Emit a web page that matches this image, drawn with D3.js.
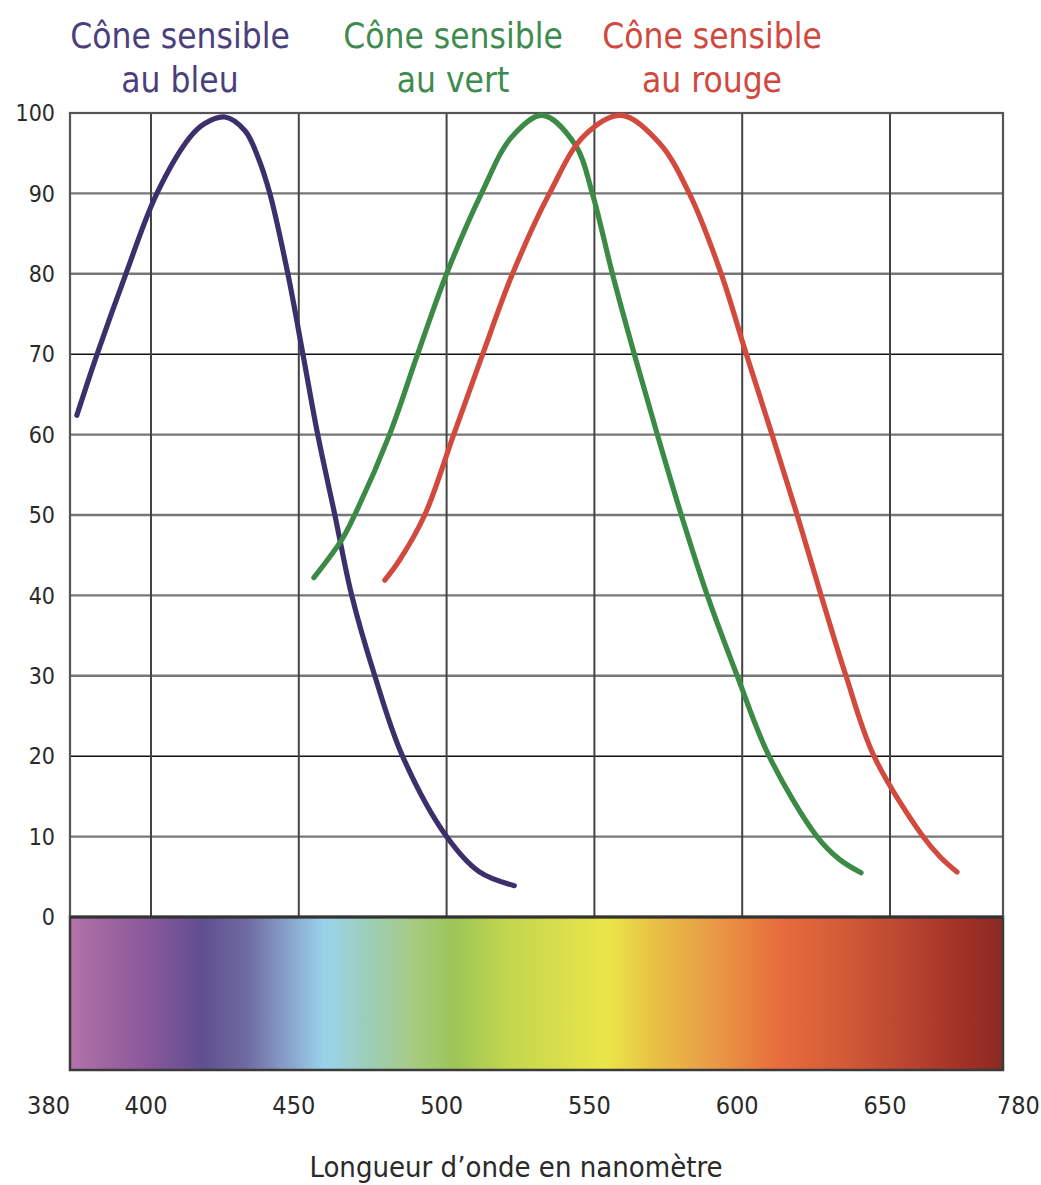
<!DOCTYPE html>
<html>
<head>
<meta charset="utf-8">
<script src="https://cdn.jsdelivr.net/npm/d3@7"></script>
<style>
  html, body { margin: 0; padding: 0; background: #fff; }
  svg text { font-family: "DejaVu Sans Condensed", "DejaVu Sans", sans-serif; font-stretch: condensed; }
</style>
</head>
<body>
<div id="graph"></div>
<script>
// wavelengths (nm) and relative sensitivity (%)
var blueNm  = [381.7, 386.7, 393.8, 402, 413.2, 418.2, 425, 431.8, 436.1, 440.2, 446.3, 451.4, 456.4, 462.2, 467.9, 475.7, 485.1, 500, 511.1, 522.9];
var blueVal = [62.4, 70, 80, 90, 97.0, 98.7, 99.5, 97.8, 94.6, 90, 80, 70, 60, 50, 40, 30, 20, 10, 5.6, 3.9];

var greenNm  = [455.1, 464.5, 468.9, 480.7, 490.2, 500, 511.8, 522, 532.4, 543.6, 549.3, 556.1, 563.5, 571.3, 579.4, 588.2, 598.3, 609.1, 625.3, 632.8, 640.2];
var greenVal = [42.2, 46.9, 50, 60, 70, 80, 90, 97, 99.7, 96, 90, 80, 70, 60, 50, 40, 30, 20, 10, 7.2, 5.5];

var redNm  = [479.1, 484.1, 492.6, 502.4, 512.2, 522.3, 534.8, 546.6, 559.1, 571.9, 582.1, 592.9, 601.4, 610.1, 618.6, 626.7, 635.1, 644.6, 688, 707.5, 727.1];
var redVal = [41.9, 44.4, 50, 60, 70, 80, 90, 97.2, 99.7, 96.3, 90, 80, 70, 60, 50, 40, 30, 20, 10, 7.5, 5.6];

var seriesNames  = ["Cône sensible|au bleu", "Cône sensible|au vert", "Cône sensible|au rouge"];
var seriesColors = ["#3d2f6b", "#3b8a45", "#d24a3e"];
var titleColors  = ["#4b3f7c", "#3f8b4f", "#d0483e"];

var yTicks = [0, 10, 20, 30, 40, 50, 60, 70, 80, 90, 100];
var xTicks = [380, 400, 450, 500, 550, 600, 650, 780];
var darkRows = [20, 70];

// colours of the visible spectrum strip
var spectrumNm  = [380, 389.9, 400, 417.6, 433.4, 447, 458.8, 474, 487.5, 502.7, 521.3, 554.4, 568.6, 585.5, 612.5, 636.1, 690, 730.5, 780];
var spectrumCol = ["#b572aa", "#9c64a0", "#88589a", "#604f91", "#6f6ea3", "#8aa4cc", "#99d3ea", "#9ccdb6", "#a8cb88", "#9bc556", "#c4d64e", "#eae648", "#e9c445", "#e9a447", "#e86c3d", "#d05936", "#b23f2e", "#a23227", "#8a2a22"];

var width = 1041, height = 1185;
var plotLeft = 70, plotRight = 1003, plotTop = 113, plotBottom = 917, stripBottom = 1070;

var svg = d3.select("#graph").append("svg")
  .attr("width", width)
  .attr("height", height);

// piecewise axis: the ends are squeezed (380 and 780 sit on the frame)
var x = d3.scaleLinear().domain([380, 400, 650, 780]).range([plotLeft, 151, 890, plotRight]);
var y = d3.scaleLinear().domain([0, 100]).range([plotBottom, plotTop]);

// spectrum gradient
var defs = svg.append("defs");
var grad = defs.append("linearGradient")
  .attr("id", "spectrum")
  .attr("x1", "0%").attr("x2", "100%").attr("y1", "0%").attr("y2", "0%");
grad.selectAll("stop")
  .data(spectrumNm)
  .enter().append("stop")
  .attr("offset", function (d) { return ((x(d) - plotLeft) / (plotRight - plotLeft) * 100) + "%"; })
  .attr("stop-color", function (d, i) { return spectrumCol[i]; });

svg.append("rect")
  .attr("x", x(380)).attr("y", y(0))
  .attr("width", x(780) - x(380))
  .attr("height", stripBottom - y(0))
  .attr("fill", "url(#spectrum)")
  .attr("stroke", "#3a3a3a")
  .attr("stroke-width", 2.5);

// grid
var grid = svg.append("g");
grid.selectAll("line.h")
  .data(yTicks.filter(function (d) { return d > 0 && d < 100; }))
  .enter().append("line")
  .attr("class", "h")
  .attr("x1", x(380)).attr("x2", x(780))
  .attr("y1", function (d) { return y(d); })
  .attr("y2", function (d) { return y(d); })
  .attr("stroke", function (d) { return darkRows.indexOf(d) >= 0 ? "#111" : "#777"; })
  .attr("stroke-width", function (d) { return darkRows.indexOf(d) >= 0 ? 1.6 : 2.4; });

grid.selectAll("line.v")
  .data(xTicks.filter(function (d) { return d > 380 && d < 780; }))
  .enter().append("line")
  .attr("class", "v")
  .attr("x1", function (d) { return x(d); })
  .attr("x2", function (d) { return x(d); })
  .attr("y1", y(100)).attr("y2", y(0))
  .attr("stroke", "#444")
  .attr("stroke-width", 2);

svg.append("rect")
  .attr("x", x(380)).attr("y", y(100))
  .attr("width", x(780) - x(380))
  .attr("height", y(0) - y(100))
  .attr("fill", "none")
  .attr("stroke", "#555")
  .attr("stroke-width", 2.2);

svg.append("line")
  .attr("x1", x(380)).attr("x2", x(780))
  .attr("y1", y(0)).attr("y2", y(0))
  .attr("stroke", "#333").attr("stroke-width", 3);

// axes labels
svg.selectAll("text.ytick")
  .data(yTicks)
  .enter().append("text")
  .attr("class", "ytick")
  .attr("x", 55)
  .attr("y", function (d) { return y(d); })
  .attr("dy", "0.36em")
  .attr("text-anchor", "end")
  .attr("font-size", 23)
  .attr("fill", "#2a2a2a")
  .text(function (d) { return d; });

svg.selectAll("text.xtick")
  .data(xTicks)
  .enter().append("text")
  .attr("class", "xtick")
  .attr("x", function (d) {
    if (d === 380) return x(d);
    if (d === 780) return x(d) - 6;
    return x(d) - 5;
  })
  .attr("y", 1114)
  .attr("text-anchor", function (d) {
    return d === 380 ? "end" : d === 780 ? "start" : "middle";
  })
  .attr("font-size", 25)
  .attr("fill", "#2a2a2a")
  .text(function (d) { return d; });

svg.append("text")
  .attr("x", 516)
  .attr("y", 1177)
  .attr("text-anchor", "middle")
  .attr("font-size", 29)
  .attr("fill", "#2a2a2a")
  .text("Longueur d\u2019onde en nanomètre");

// curves
var series = [
  { nm: blueNm, val: blueVal },
  { nm: greenNm, val: greenVal },
  { nm: redNm, val: redVal }
];
var line = d3.line()
  .x(function (d) { return x(d[0]); })
  .y(function (d) { return y(d[1]); })
  .curve(d3.curveCatmullRom.alpha(0.5));

svg.selectAll("path.cone")
  .data(series)
  .enter().append("path")
  .attr("class", "cone")
  .attr("d", function (s) {
    return line(s.nm.map(function (n, i) { return [n, s.val[i]]; }));
  })
  .attr("fill", "none")
  .attr("stroke", function (d, i) { return seriesColors[i]; })
  .attr("stroke-width", 5.2)
  .attr("stroke-linecap", "round");

// titles above each curve's peak
var titleX = [180, 453, 712];
var titles = svg.selectAll("text.title")
  .data(seriesNames)
  .enter().append("text")
  .attr("class", "title")
  .attr("text-anchor", "middle")
  .attr("font-size", 35)
  .attr("fill", function (d, i) { return titleColors[i]; });
titles.selectAll("tspan")
  .data(function (d, i) { return d.split("|").map(function (t) { return { t: t, i: i }; }); })
  .enter().append("tspan")
  .attr("x", function (d) { return titleX[d.i]; })
  .attr("y", function (d, j) { return j === 0 ? 48 : 92; })
  .text(function (d) { return d.t; });
</script>
</body>
</html>
